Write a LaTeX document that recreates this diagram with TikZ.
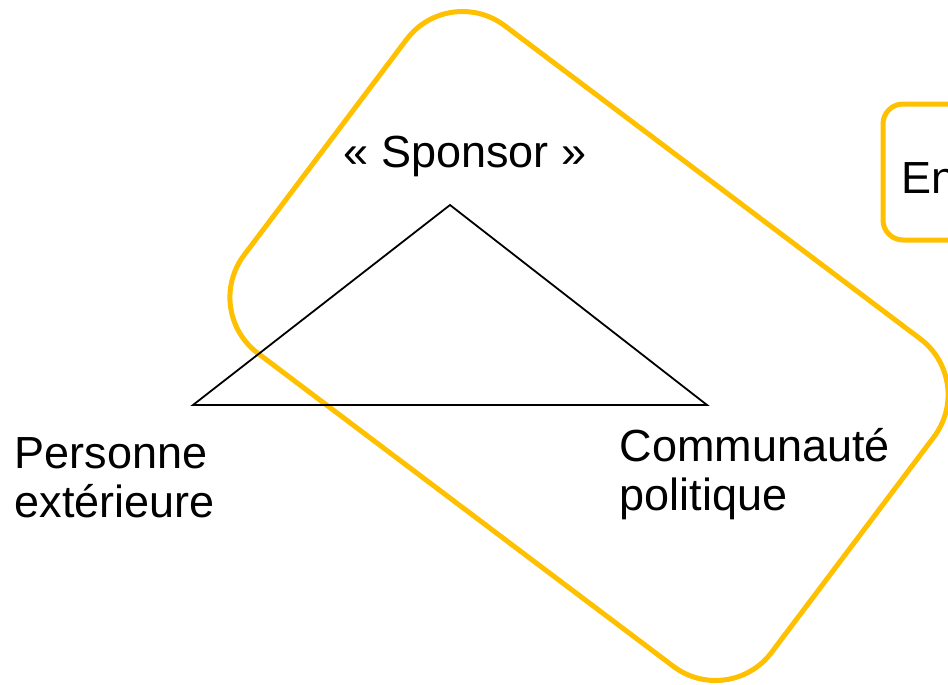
\documentclass[tikz,border=0pt]{standalone}
\usepackage{fontspec}
\setmainfont{Liberation Sans}
\definecolor{gold}{HTML}{FFC000}
\begin{document}
\begin{tikzpicture}[x=1pt,y=-1pt,
  lbl/.style={inner sep=0pt,font=\fontsize{45}{49}\selectfont,align=left},
  frame/.style={draw=gold,line width=5pt,rounded corners=70pt},
  tri/.style={draw=black,line width=1.8pt,line join=miter}]
\clip (0,0) rectangle (948,685);
\useasboundingbox (0,0) rectangle (948,685);
% rotated rounded frame
\coordinate (ft) at (448.7,-16.5);
\coordinate (fr) at (976.1,380.9);
\coordinate (fb) at (729.3,708.5);
\coordinate (fl) at (201.9,311.1);
\draw[frame] (ft) -- (fr) -- (fb) -- (fl) -- cycle;
% top-right box
\coordinate (b1) at (883,104);
\coordinate (b2) at (1010,240);
\draw[draw=gold,line width=5pt,rounded corners=20pt] (b1) rectangle (b2);
\node[lbl,anchor=base west] (en) at (901.5,193) {En};
% triangle
\coordinate (apex) at (450,205);
\coordinate (bl) at (193,405);
\coordinate (br) at (707,405);
\draw[tri] (apex) -- (bl) -- (br) -- cycle;
% labels
\node[lbl,anchor=base] (sponsor) at (465,167) {« Sponsor »};
\node[lbl,anchor=base west] (pers) at (14.5,517) {Personne\\extérieure};
\node[lbl,anchor=base west] (comm) at (619.5,510) {Communauté\\politique};
\end{tikzpicture}
\end{document}
